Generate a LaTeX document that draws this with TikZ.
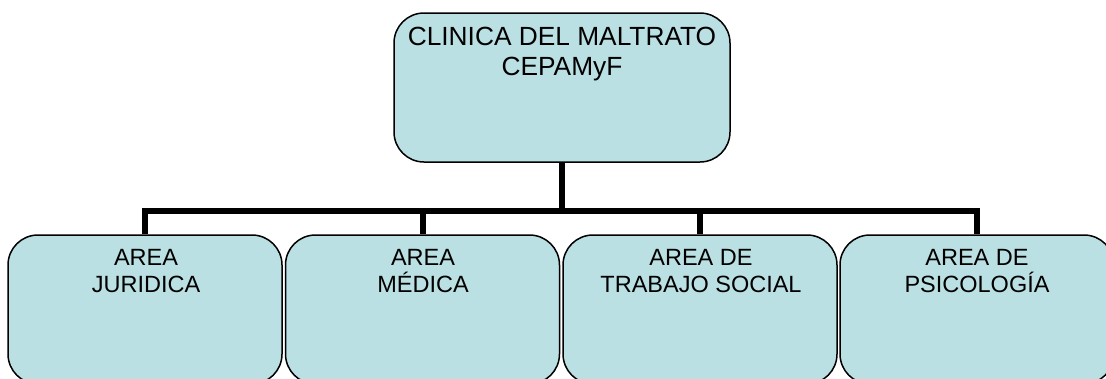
\documentclass[tikz,border=0pt]{standalone}
\usepackage{fontspec}
\setmainfont{Liberation Sans}
\definecolor{boxfill}{RGB}{187,224,227}
\begin{document}
\begin{tikzpicture}[x=1pt,y=-1pt,
  box/.style={draw=black, line width=1.5pt, fill=boxfill, rounded corners=30pt, inner sep=0pt},
  topbox/.style={box, minimum width=336pt, minimum height=149pt},
  areabox/.style={box, minimum width=274pt, minimum height=149pt},
  toplabel/.style={anchor=north, inner sep=0pt, align=center, font=\fontsize{26.3}{30}\selectfont},
  arealabel/.style={anchor=north, inner sep=0pt, align=center, font=\fontsize{23.5}{27}\selectfont},
  conn/.style={draw=black, line width=6pt, line join=miter}]
\useasboundingbox (0,0) rectangle (1106,378);
\clip (0,0) rectangle (1106,378);
\fill[white] (0,0) rectangle (1106,378);
\coordinate (bar) at (0,211);
\node[topbox] (root) at (562,87.5) {};
\node[areabox] (a1) at (145,309.5) {};
\node[areabox] (a2) at (422.5,309.5) {};
\node[areabox] (a3) at (700,309.5) {};
\node[areabox] (a4) at (977,309.5) {};
\node[toplabel] (troot) at (562,26.5) {CLINICA DEL MALTRATO\\CEPAMyF};
\node[arealabel] (t1) at (146,249.2) {AREA\\JURIDICA};
\node[arealabel] (t2) at (423,249.2) {AREA\\MÉDICA};
\node[arealabel] (t3) at (701,249.2) {AREA DE\\TRABAJO SOCIAL};
\node[arealabel] (t4) at (977,249.2) {AREA DE\\PSICOLOGÍA};
\draw[conn] (root.south) -- (root.south |- bar);
\draw[conn] (a1.north) -- (a1.north |- bar) -- (a4.north |- bar) -- (a4.north);
\draw[conn] (a2.north |- bar) -- (a2.north);
\draw[conn] (a3.north |- bar) -- (a3.north);
\end{tikzpicture}
\end{document}
